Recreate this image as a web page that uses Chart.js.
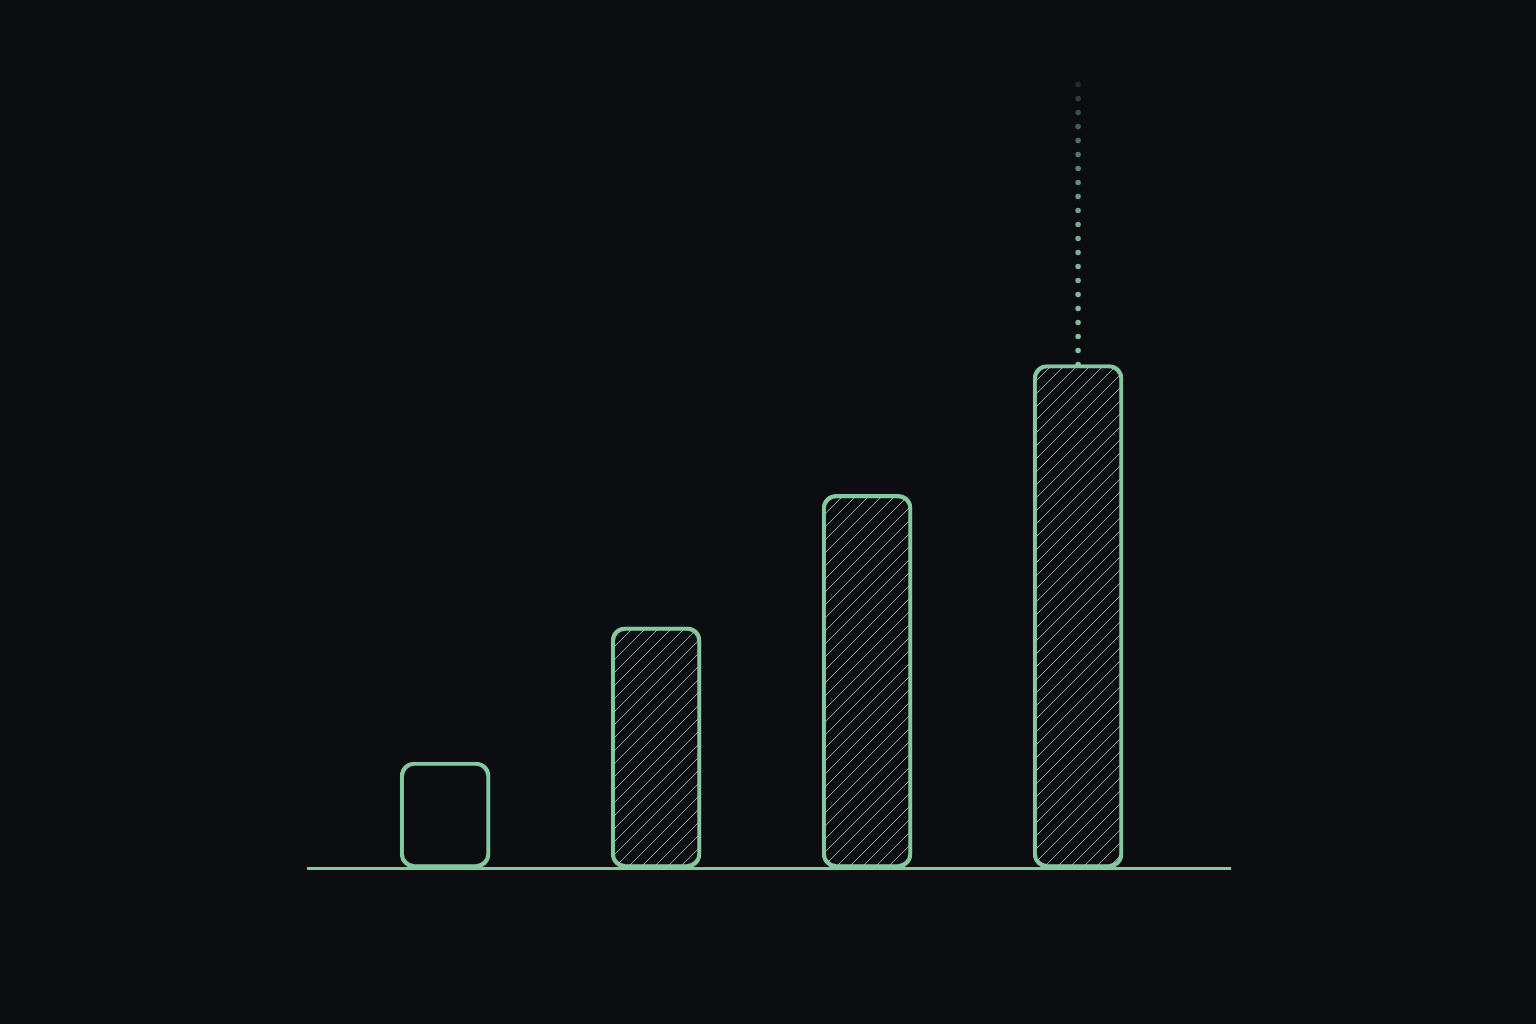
<!DOCTYPE html>
<html>
<head>
<meta charset="utf-8">
<script src="https://cdn.jsdelivr.net/npm/chart.js@4/dist/chart.umd.min.js"></script>
<style>
  html, body { margin: 0; padding: 0; background: #0b0d10; }
  #wrap { width: 1536px; height: 1024px; }
</style>
</head>
<body>
<div id="wrap"><canvas id="chart"></canvas></div>
<script>
// data
const categories = ['Stage 1', 'Stage 2', 'Stage 3', 'Stage 4'];
const positions = [0, 1, 2, 3];
const values = [2, 4.55, 7.05, 9.5];
const hatched = [false, true, true, true];
const target = { x: 3, from: 9.5, to: 15 };

const green = '#84c8a0';

// diagonal hatch tile
const makeHatch = () => {
    const size = 13;
    const tile = document.createElement('canvas');
    tile.width = size;
    tile.height = size;
    const t = tile.getContext('2d');
    t.strokeStyle = 'rgba(185, 205, 195, 0.85)';
    t.lineWidth = 1;
    t.beginPath();
    t.moveTo(0, size); t.lineTo(size, 0);
    t.moveTo(-2, 2); t.lineTo(2, -2);
    t.moveTo(size - 2, size + 2); t.lineTo(size + 2, size - 2);
    t.stroke();
    return t.createPattern(tile, 'repeat');
};

const render = () => {
    const ctx = document.getElementById('chart');
    const hatch = makeHatch();

    new Chart(ctx, {
        data: {
            datasets: [
                {
                    type: 'line',
                    data: [{ x: target.x, y: target.from }, { x: target.x, y: target.to }],
                    borderWidth: 5.5,
                    borderDash: [0, 14],
                    borderCapStyle: 'round',
                    pointRadius: 0,
                    borderColor: (c) => {
                        const chart = c.chart;
                        if (!chart.chartArea) return green;
                        const y = chart.scales.y;
                        const g = chart.ctx.createLinearGradient(0, y.getPixelForValue(target.from), 0, y.getPixelForValue(target.to));
                        g.addColorStop(0, 'rgba(132, 200, 160, 1)');
                        g.addColorStop(0.5, 'rgba(132, 200, 160, 0.85)');
                        g.addColorStop(0.8, 'rgba(132, 200, 160, 0.5)');
                        g.addColorStop(1, 'rgba(132, 200, 160, 0.1)');
                        return g;
                    },
                },
                {
                    type: 'bar',
                    label: 'value',
                    data: positions.map((x, i) => ({ x, y: values[i], name: categories[i] })),
                    barThickness: 90,
                    borderWidth: 3.5,
                    borderRadius: 14,
                    borderSkipped: false,
                    borderColor: green,
                    backgroundColor: hatched.map(h => h ? hatch : 'rgba(0,0,0,0)'),
                },
            ],
        },
        options: {
            responsive: true,
            maintainAspectRatio: false,
            animation: false,
            layout: { padding: { left: 308, right: 306, top: 20, bottom: 156 } },
            plugins: { legend: { display: false }, tooltip: { enabled: false } },
            scales: {
                x: {
                    type: 'linear',
                    offset: false,
                    min: -0.65,
                    max: 3.72,
                    grid: { display: false, drawTicks: false },
                    ticks: { display: false },
                    border: { display: true, color: green, width: 3, z: 1 },
                },
                y: {
                    display: false,
                    min: 0,
                    max: 16,
                },
            },
        },
    });
};

document.addEventListener('DOMContentLoaded', render);
</script>
</body>
</html>
